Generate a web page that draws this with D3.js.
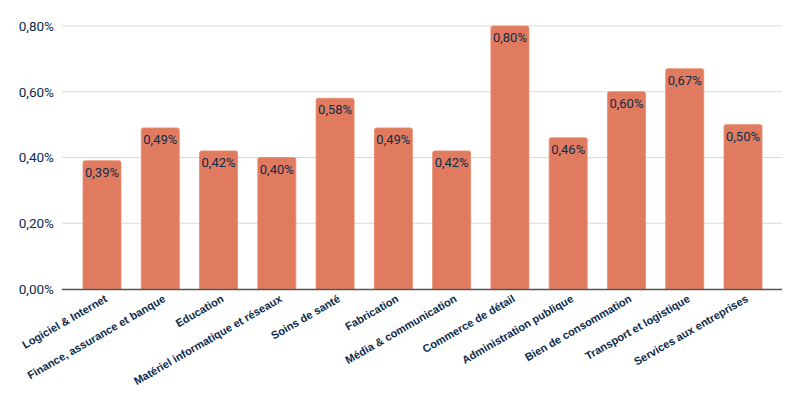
<!DOCTYPE html>
<html>
<head>
<meta charset="utf-8">
<script src="https://cdn.jsdelivr.net/npm/d3@7"></script>
<style>
	body { margin: 0; background: #fff; }
	svg { font-family: Roboto, "Liberation Sans", sans-serif; }
</style>
</head>
<body>
<svg width="799" height="395"></svg>
<script>
// secteurs et valeurs (en %)
const categories = [
	"Logiciel & Internet",
	"Finance, assurance et banque",
	"Education",
	"Matériel informatique et réseaux",
	"Soins de santé",
	"Fabrication",
	"Média & communication",
	"Commerce de détail",
	"Administration publique",
	"Bien de consommation",
	"Transport et logistique",
	"Services aux entreprises",
];
const values = [0.39, 0.49, 0.42, 0.40, 0.58, 0.49, 0.42, 0.80, 0.46, 0.60, 0.67, 0.50];
const yTicks = [0, 0.2, 0.4, 0.6, 0.8];

const svg = d3.select("svg");
const plotLeft = 62, plotRight = 782, plotTop = 26, plotBottom = 289;
const textColor = "#0c2b4b";
const barColor = "#e17b5f";

const fmt = (v) => v.toFixed(2).replace(".", ",") + "%";

const x = d3.scaleBand().domain(categories).range([83, 762]).paddingInner(0.348).paddingOuter(0);
const y = d3.scaleLinear().domain([0, 0.8]).range([plotBottom, plotTop]);

// grid
svg.append("g")
	.attr("class", "grid")
	.selectAll("line")
	.data(yTicks.filter((d) => d > 0))
	.join("line")
	.attr("x1", plotLeft)
	.attr("x2", plotRight)
	.attr("y1", (d) => y(d))
	.attr("y2", (d) => y(d))
	.attr("stroke", "#d9d9d9")
	.attr("stroke-width", 1);

// y axis labels
const yAxis = svg.append("g")
	.attr("transform", "translate(" + plotLeft + ",0)")
	.call(d3.axisLeft(y).tickValues(yTicks).tickFormat(fmt).tickSize(0).tickPadding(8));
yAxis.select(".domain").remove();
yAxis.selectAll("text")
	.attr("fill", textColor)
	.attr("font-size", "13.5px")
	.attr("font-family", "Roboto, sans-serif");

// bars
const bars = svg.append("g").attr("class", "bars");
bars.selectAll("path")
	.data(values)
	.join("path")
	.attr("fill", barColor)
	.attr("stroke", "#e8896c")
	.attr("stroke-width", 0.8)
	.attr("d", (d, i) => {
		const x0 = x(categories[i]), w = x.bandwidth();
		const y0 = y(d), r = 2;
		return "M" + x0 + "," + plotBottom +
			"V" + (y0 + r) + "Q" + x0 + "," + y0 + " " + (x0 + r) + "," + y0 +
			"H" + (x0 + w - r) + "Q" + (x0 + w) + "," + y0 + " " + (x0 + w) + "," + (y0 + r) +
			"V" + plotBottom + "Z";
	});

// value labels
bars.selectAll("text")
	.data(values)
	.join("text")
	.attr("x", (d, i) => x(categories[i]) + x.bandwidth() / 2)
	.attr("y", (d) => y(d) + 16)
	.attr("text-anchor", "middle")
	.attr("fill", textColor)
	.attr("font-size", "13px")
	.text(fmt);

// baseline
svg.append("line")
	.attr("x1", plotLeft)
	.attr("x2", plotRight)
	.attr("y1", plotBottom + 0.5)
	.attr("y2", plotBottom + 0.5)
	.attr("stroke", "#555")
	.attr("stroke-width", 1.3);

// x labels
const xAxis = svg.append("g")
	.attr("transform", "translate(0," + plotBottom + ")")
	.call(d3.axisBottom(x).tickSize(0).tickPadding(0));
xAxis.select(".domain").remove();
xAxis.selectAll("text")
	.attr("fill", textColor)
	.attr("font-size", "11px")
	.attr("font-weight", "bold")
	.attr("font-family", "Arial, 'Liberation Sans', sans-serif")
	.attr("text-anchor", "end")
	.attr("dy", "0")
	.attr("transform", "translate(6,12) rotate(-30)");
</script>
</body>
</html>
